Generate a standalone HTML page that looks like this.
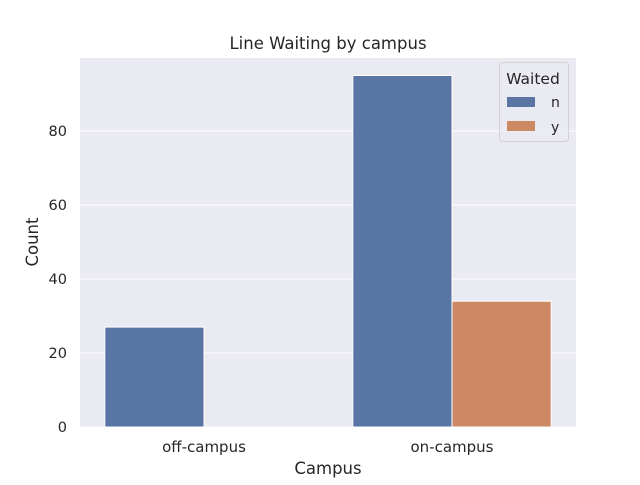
<!DOCTYPE html>
<html><head><meta charset="utf-8"><style>
body{margin:0;background:#fff;}
svg text{font-family:"DejaVu Sans","Liberation Sans",sans-serif;fill:#262626;}
</style></head><body>
<svg width="640" height="480">
<rect x="0" y="0" width="640" height="480" fill="#fff"/>
<rect x="80" y="58" width="496" height="369" fill="#eaeaf2"/>
<g id="grid"></g>
<g id="bars"></g>
<g id="ticks"></g>
<text x="328" y="49" font-size="16.5" text-anchor="middle">Line Waiting by campus</text>
<text x="328" y="474" font-size="16.5" text-anchor="middle">Campus</text>
<text x="38" y="242" font-size="16.5" text-anchor="middle" transform="rotate(-90 38 242)">Count</text>
<g>
<rect x="499.5" y="62.5" width="69" height="79" rx="3" fill="#eaeaf2" stroke="#ccc" opacity="0.8"/>
<text x="533" y="84" font-size="15.5" text-anchor="middle">Waited</text>
<rect x="507" y="97" width="28" height="10" fill="#5875a4"/>
<text x="551" y="107" font-size="14">n</text>
<rect x="507" y="121" width="28" height="10" fill="#cc8963"/>
<text x="551" y="132" font-size="14">y</text>
</g>
</svg>
<script>
const categories=["off-campus","on-campus"];
const hues=["n","y"];
const seriesN=[27,95];
const seriesY=[0,34];
const yTicks=[0,20,40,60,80];
const colors=["#5875a4","#cc8963"];
const NS="http://www.w3.org/2000/svg";
function yS(v){return 427-v*3.7;}
function xS(i){return 80+(i+0.5)*248;}
const grid=document.getElementById('grid'),bars=document.getElementById('bars'),ticks=document.getElementById('ticks');
yTicks.forEach(t=>{
 const l=document.createElementNS(NS,'line');
 l.setAttribute('x1',80);l.setAttribute('x2',576);l.setAttribute('y1',yS(t));l.setAttribute('y2',yS(t));
 l.setAttribute('stroke','#fff');l.setAttribute('stroke-width','1');
 
 
 grid.appendChild(l);
 const tx=document.createElementNS(NS,'text');
 tx.setAttribute('x',67);tx.setAttribute('y',yS(t)+5);tx.setAttribute('font-size','14.5');tx.setAttribute('text-anchor','end');
 tx.textContent=t;
 
 
 ticks.appendChild(tx);
});
const series=[seriesN,seriesY];
categories.forEach((c,i)=>{
 series.forEach((s,h)=>{
  const w=0.4*248, x=xS(i)-0.4*248+h*w;
  const r=document.createElementNS(NS,'rect');
  r.setAttribute('x',x);r.setAttribute('y',yS(s[i]));r.setAttribute('width',w);r.setAttribute('height',427-yS(s[i]));
  r.setAttribute('fill',colors[h]);r.setAttribute('stroke','#fff');r.setAttribute('stroke-width','1');
  
  
  bars.appendChild(r);
 });
 const tx=document.createElementNS(NS,'text');
 tx.setAttribute('x',xS(i));tx.setAttribute('y',452);tx.setAttribute('font-size','15');tx.setAttribute('text-anchor','middle');
 tx.textContent=c;
 
 
 ticks.appendChild(tx);
});
</script>
</body></html>
